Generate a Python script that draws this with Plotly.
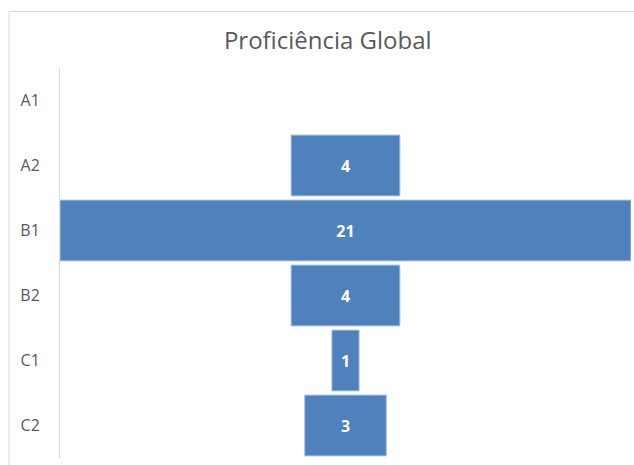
import plotly.graph_objects as go

categories = ["A1", "A2", "B1", "B2", "C1", "C2"]
values = [0, 4, 21, 4, 1, 3]
title_text = "Proficiência Global"

labels = ["" if v == 0 else str(v) for v in values]
line_widths = [0 if v == 0 else 1 for v in values]

fig = go.Figure(go.Funnel(
    y=categories,
    x=values,
    text=labels,
    textinfo="text",
    textposition="inside",
    insidetextanchor="middle",
    textfont=dict(family="Open Sans", size=16, color="white", weight="bold"),
    marker=dict(color="#4F81BD", line=dict(color="#A9C0DE", width=line_widths)),
    connector=dict(visible=False),
    hoverinfo="y+x",
))

half = max(values) / 2
fig.update_layout(
    width=634, height=465,
    margin=dict(l=60, r=3, t=68, b=7, autoexpand=False),
    paper_bgcolor="white", plot_bgcolor="white",
    funnelgap=0.065,
    showlegend=False,
    title=dict(text=title_text, x=0.517, xref="container", y=0.912, yref="container",
               xanchor="center", yanchor="middle",
               font=dict(family="Open Sans", size=24, color="#595959")),
    font=dict(family="Open Sans", color="#595959"),
    xaxis=dict(visible=False, range=[-half, half], fixedrange=True),
    yaxis=dict(showline=True, linecolor="#D9D9D9", linewidth=1, showgrid=False,
               ticks="", ticklabelstandoff=16, automargin=False,
               tickfont=dict(family="Open Sans", size=16, color="#595959")),
    shapes=[
        dict(type="line", xref="paper", yref="paper", x0=-0.0893, x1=-0.0893, y0=-0.05, y1=1.145,
             line=dict(color="#D9D9D9", width=1)),
        dict(type="line", xref="paper", yref="paper", x0=-0.0893, x1=1.05, y0=1.145, y1=1.145,
             line=dict(color="#D9D9D9", width=1)),
    ],
)

fig.write_html(
    "out.html",
    config={"displayModeBar": False},
    post_script="document.body.style.margin='0';document.body.style.overflow='hidden';",
)
